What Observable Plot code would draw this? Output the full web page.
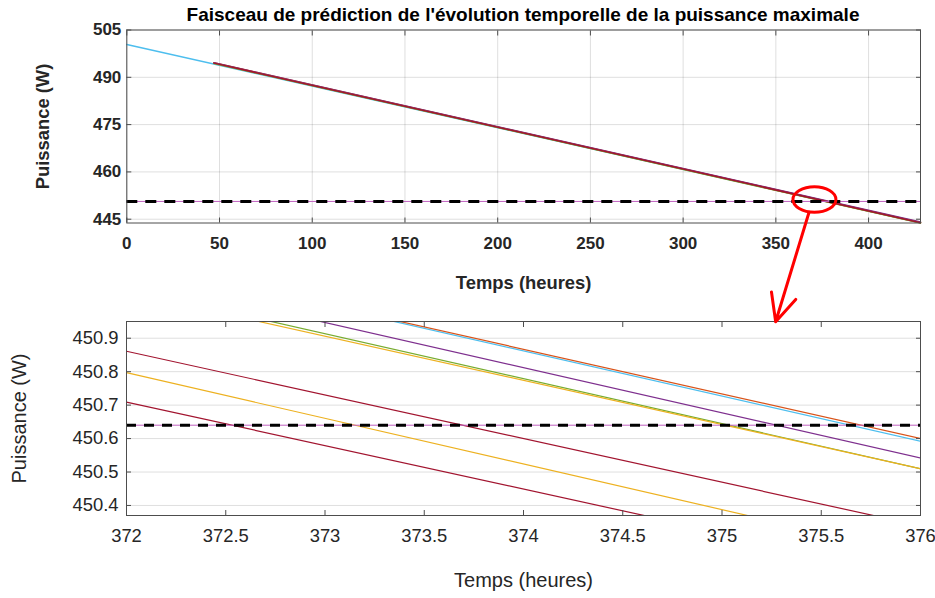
<!DOCTYPE html>
<html>
<head>
<meta charset="utf-8">
<script src="https://cdn.jsdelivr.net/npm/d3@7"></script>
<script src="https://cdn.jsdelivr.net/npm/@observablehq/plot@0.6"></script>
<style>
  html, body { margin: 0; padding: 0; background: white; }
  #fig { position: relative; width: 935px; height: 598px; background: white; font-family: "Liberation Sans", Arial, sans-serif; color: #262626; }
  #titre { position: absolute; left: 126px; width: 794px; top: 5px; line-height: 19px; font-size: 19px; font-weight: bold; text-align: center; color: #000; white-space: nowrap; }
  #haut { position: absolute; left: 0; top: 0; z-index: 2; }
  #bas { position: absolute; left: 0; top: 300px; z-index: 1; }
</style>
</head>
<body>
<div id="fig">
  <div id="haut"></div>
  <div id="bas"></div>
  <div id="titre">Faisceau de prédiction de l'évolution temporelle de la puissance maximale</div>
</div>
<script>
// ---------- Texts ----------
const titre = "Faisceau de prédiction de l'évolution temporelle de la puissance maximale";
const labelX = "Temps (heures)";
const labelY = "Puissance (W)";

// ---------- Top chart (overview) ----------
const hautTicksX = [0, 50, 100, 150, 200, 250, 300, 350, 400];
const hautTicksY = [445, 460, 475, 490, 505];
const hautSeries = ["historique", "pred1", "pred2", "pred3", "pred4", "pred5"];
const hautCouleurs = ["#4DBEEE", "#D95319", "#EDB120", "#7E2F8E", "#77AC30", "#A2142F"];
const hautDebutT = [0, 47, 47, 47, 47, 47];
const hautDebutP = [500.4, 494.6, 494.5, 494.6, 494.4, 494.5];
const hautFinT = [428, 428, 428, 428, 428, 428];
const hautFinP = [443.9, 444.0, 443.9, 444.1, 443.8, 443.9];

// ---------- Bottom chart (zoom) ----------
const basTicksX = [372, 372.5, 373, 373.5, 374, 374.5, 375, 375.5, 376];
const basTicksY = [450.4, 450.5, 450.6, 450.7, 450.8, 450.9];
const basSeries = ["cyan", "orange", "violet", "vert", "jaune1", "rouge1", "jaune2", "rouge2"];
const basCouleurs = ["#4DBEEE", "#D95319", "#7E2F8E", "#77AC30", "#EDB120", "#A2142F", "#EDB120", "#A2142F"];
const basDebutT = [372, 372, 372, 372, 372, 372, 372, 372];
const basDebutP = [451.132, 451.134, 451.082, 451.048, 451.038, 450.861, 450.797, 450.709];
const basFinT = [376, 376, 376, 376, 376, 376, 376, 376];
const basFinP = [450.592, 450.600, 450.542, 450.510, 450.510, 450.339, 450.251, 450.189];

// ---------- Threshold & annotation ----------
const seuil = [450.64];
const ellipseCentre = [{t: 370.8, p: 451.26}];
const fleche = [{t1: 367.9, p1: 447.2, t2: 349.9, p2: 412.5}];

function lignes(noms, couleurs, t0, p0, t1, p1) {
  const rows = [];
  noms.forEach((n, i) => {
    rows.push({serie: n, couleur: couleurs[i], t: t0[i], p: p0[i]});
    rows.push({serie: n, couleur: couleurs[i], t: t1[i], p: p1[i]});
  });
  return rows;
}
const hautRows = lignes(hautSeries, hautCouleurs, hautDebutT, hautDebutP, hautFinT, hautFinP);
const basRows = lignes(basSeries, basCouleurs, basDebutT, basDebutP, basFinT, basFinP);

// Ellipse symbol (bezier approximation)
const ellipseSymbol = {
  draw(ctx) {
    const rx = 21.5, ry = 12.7, k = 0.5523;
    ctx.moveTo(rx, 0);
    ctx.bezierCurveTo(rx, ry * k, rx * k, ry, 0, ry);
    ctx.bezierCurveTo(-rx * k, ry, -rx, ry * k, -rx, 0);
    ctx.bezierCurveTo(-rx, -ry * k, -rx * k, -ry, 0, -ry);
    ctx.bezierCurveTo(rx * k, -ry, rx, -ry * k, rx, 0);
    ctx.closePath();
  }
};

const axeCol = "#262626";
const cadre = "#4d4d4d";
const fmt = d => String(d);

const haut = Plot.plot({
  width: 935, height: 300,
  marginLeft: 126.3, marginRight: 15, marginTop: 29.5, marginBottom: 77.5,
  style: {background: "transparent", overflow: "visible", fontFamily: "Liberation Sans, Arial, sans-serif", fontSize: "17px", fontWeight: "bold", color: axeCol},
  x: {domain: [0, 428], axis: null},
  y: {domain: [443.8, 505], axis: null},
  color: {type: "identity"},
  marks: [
    Plot.gridX(hautTicksX, {stroke: "#000", strokeOpacity: 0.13}),
    Plot.gridY(hautTicksY, {stroke: "#000", strokeOpacity: 0.13}),
    Plot.line(hautRows, {x: "t", y: "p", z: "serie", stroke: "couleur", strokeWidth: 1.5}),
    Plot.ruleY(seuil, {stroke: "#c060c0", strokeWidth: 1}),
    Plot.ruleY(seuil, {stroke: "#000", strokeWidth: 3, strokeDasharray: "11,8"}),
    Plot.axisX(hautTicksX, {anchor: "bottom", tickSize: -5, text: null, stroke: cadre, label: null}),
    Plot.axisX(hautTicksX, {anchor: "top", tickSize: -5, text: null, stroke: cadre, label: null}),
    Plot.axisY(hautTicksY, {anchor: "left", tickSize: -5, text: null, stroke: cadre, label: null}),
    Plot.axisY(hautTicksY, {anchor: "right", tickSize: -5, text: null, stroke: cadre, label: null}),
    Plot.axisX(hautTicksX, {anchor: "bottom", tickSize: 0, tickPadding: 14, tickFormat: fmt, label: null, fontSize: 17, fontWeight: "bold"}),
    Plot.axisY(hautTicksY, {anchor: "left", tickSize: 0, tickPadding: 5.5, tickFormat: fmt, label: null, fontSize: 17, fontWeight: "bold"}),
    Plot.frame({stroke: cadre, strokeWidth: 1}),
    Plot.text([labelX], {frameAnchor: "bottom", textAnchor: "middle", dy: 65.5, text: d => d, fontSize: 18.4, fontWeight: "bold", fill: axeCol}),
    Plot.text([labelY], {frameAnchor: "left", textAnchor: "middle", dx: -83.8, rotate: -90, text: d => d, fontSize: 18.4, fontWeight: "bold", fill: axeCol}),
    Plot.dot(ellipseCentre, {x: "t", y: "p", symbol: ellipseSymbol, stroke: "#FF0000", strokeWidth: 3, fill: "none"}),
    Plot.arrow(fleche, {x1: "t1", y1: "p1", x2: "t2", y2: "p2", stroke: "#FF0000", strokeWidth: 3, headLength: 15, headAngle: 50})
  ]
});
document.getElementById("haut").appendChild(haut);

const bas = Plot.plot({
  width: 935, height: 298,
  marginLeft: 126, marginRight: 15, marginTop: 21, marginBottom: 83,
  style: {background: "transparent", overflow: "visible", fontFamily: "Liberation Sans, Arial, sans-serif", fontSize: "18px", color: axeCol},
  x: {domain: [372, 376], axis: null},
  y: {domain: [450.37, 450.95], axis: null},
  color: {type: "identity"},
  marks: [
    Plot.gridY(basTicksY, {stroke: "#000", strokeOpacity: 0.13}),
    Plot.line(basRows, {x: "t", y: "p", z: "serie", stroke: "couleur", strokeWidth: 1.2, clip: true}),
    Plot.ruleY(seuil, {stroke: "#c060c0", strokeWidth: 1}),
    Plot.ruleY(seuil, {stroke: "#000", strokeWidth: 3, strokeDasharray: "10,8"}),
    Plot.axisX(basTicksX, {anchor: "bottom", tickSize: -5, text: null, stroke: cadre, label: null}),
    Plot.axisX(basTicksX, {anchor: "top", tickSize: -5, text: null, stroke: cadre, label: null}),
    Plot.axisY(basTicksY, {anchor: "left", tickSize: -5, text: null, stroke: cadre, label: null}),
    Plot.axisY(basTicksY, {anchor: "right", tickSize: -5, text: null, stroke: cadre, label: null}),
    Plot.axisX(basTicksX, {anchor: "bottom", tickSize: 0, tickPadding: 13, tickFormat: fmt, label: null, fontSize: 18.4}),
    Plot.axisY(basTicksY, {anchor: "left", tickSize: 0, tickPadding: 8, tickFormat: fmt, label: null, fontSize: 18.4}),
    Plot.frame({stroke: cadre, strokeWidth: 1}),
    Plot.text([labelX], {frameAnchor: "bottom", textAnchor: "middle", dy: 71.5, text: d => d, fontSize: 20, fill: axeCol}),
    Plot.text([labelY], {frameAnchor: "left", textAnchor: "middle", dx: -107, rotate: -90, text: d => d, fontSize: 20, fill: axeCol})
  ]
});
document.getElementById("bas").appendChild(bas);
</script>
</body>
</html>
